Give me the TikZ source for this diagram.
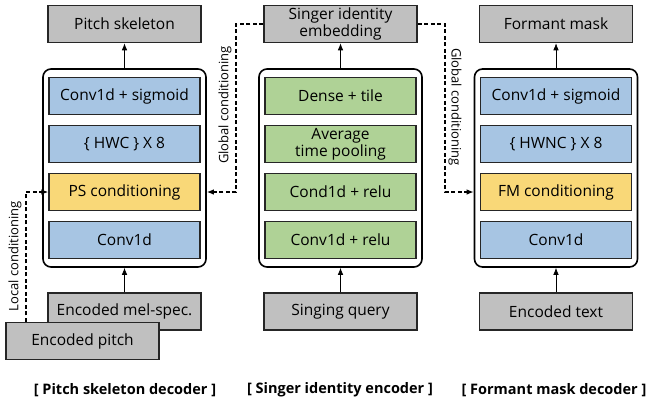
\documentclass[tikz,border=0pt]{standalone}
\usepackage{xcolor}
\usepackage{fontspec}
\setmainfont{Open Sans}
\usepackage{tikz}
\usetikzlibrary{arrows.meta}
\usetikzlibrary{positioning}

\definecolor{boxgray}{RGB}{192,192,192}
\definecolor{boxblue}{RGB}{167,197,227}
\definecolor{boxyellow}{RGB}{249,216,120}
\definecolor{boxgreen}{RGB}{175,210,150}

\begin{document}
\begin{tikzpicture}[
	x=1pt, y=-1pt,
	font=\fontsize{15.5}{17}\selectfont,
	>={Latex[length=7pt,width=5.5pt]}
]
\tikzset{
    mybox/.style = {rectangle, draw=black!85, line width=1.5pt, align=center, minimum width=151pt, minimum height=37pt, inner sep=1pt},
    myio/.style = {mybox, fill=boxgray, minimum width=153pt},
    myconv/.style = {mybox, fill=boxblue},
    mycond/.style = {mybox, fill=boxyellow},
    mydense/.style = {mybox, fill=boxgreen},
    myframe/.style = {rectangle, draw=black, line width=1.6pt, rounded corners=8pt, minimum width=163pt, minimum height=198pt},
    myflow/.style = {->, line width=0.7pt},
    mydash/.style = {->, dash pattern=on 4pt off 2.5pt, line width=1.2pt},
    mylabel/.style = {font=\fontsize{13}{14}\selectfont},
    mytitle/.style = {font=\fontsize{14.5}{16}\selectfont\bfseries}
}
\useasboundingbox (0,0) rectangle (652,402);
\node[myframe] (ps_frame) at (124.5,168) {};
\node[myframe] (si_frame) at (340.5,168) {};
\node[myframe] (fm_frame) at (556,168) {};
\node[myio] (ps_out) at (124.5,24) {Pitch skeleton};
\node[myconv] (ps_sig) at (124.5,96) {Conv1d + sigmoid};
\node[myconv] (ps_hwc) at (124.5,144) {\{ HWC \} X 8};
\node[mycond] (ps_cond) at (124.5,192) {PS conditioning};
\node[myconv] (ps_conv) at (124.5,240) {Conv1d};
\node[myio] (ps_mel) at (124.5,311.5) {Encoded mel-spec.};
\node[myio] (ps_pitch) at (82.5,341) {Encoded pitch};
\node[myio] (si_emb) at (340.5,24) {Singer identity\\embedding};
\node[mydense] (si_dense) at (340.5,96) {Dense + tile};
\node[mydense] (si_pool) at (340.5,144) {Average\\time pooling};
\node[mydense] (si_cond) at (340.5,192) {Cond1d + relu};
\node[mydense] (si_conv) at (340.5,240) {Conv1d + relu};
\node[myio] (si_query) at (340.5,311.5) {Singing query};
\node[myio] (fm_out) at (556,24) {Formant mask};
\node[myconv] (fm_sig) at (556,96) {Conv1d + sigmoid};
\node[myconv] (fm_hwnc) at (556,144) {\{ HWNC \} X 8};
\node[mycond] (fm_cond) at (556,192) {FM conditioning};
\node[myconv] (fm_conv) at (556,240) {Conv1d};
\node[myio] (fm_text) at (556,311.5) {Encoded text};
\draw[myflow] (ps_frame) -- (ps_out);
\draw[myflow] (ps_mel) -- (ps_frame);
\draw[myflow] (si_frame) -- (si_emb);
\draw[myflow] (si_query) -- (si_frame);
\draw[myflow] (fm_frame) -- (fm_out);
\draw[myflow] (fm_text) -- (fm_frame);
\coordinate (loc_bend) at (26,0);
\coordinate (glob_left) at (236,0);
\coordinate (glob_right) at (445,0);
\draw[mydash] (ps_pitch.north -| loc_bend) |- (ps_cond.west);
\draw[mydash] (si_emb.west) -| (glob_left |- ps_cond) -- (ps_cond -| ps_frame.east);
\draw[mydash] (si_emb.east) -| (glob_right |- fm_cond) -- (fm_cond -| fm_frame.west);
\node[mylabel, rotate=90] (loc_label) at (15,256) {Local conditioning};
\node[mylabel, rotate=90] (glob_label_a) at (225,105) {Global conditioning};
\node[mylabel, rotate=-90] (glob_label_b) at (455,107) {Global conditioning};
\node[mytitle] (ps_title) at (125,390) {[ Pitch skeleton decoder ]};
\node[mytitle] (si_title) at (340,390) {[ Singer identity encoder ]};
\node[mytitle] (fm_title) at (554,390) {[ Formant mask decoder ]};
\end{tikzpicture}
\end{document}
